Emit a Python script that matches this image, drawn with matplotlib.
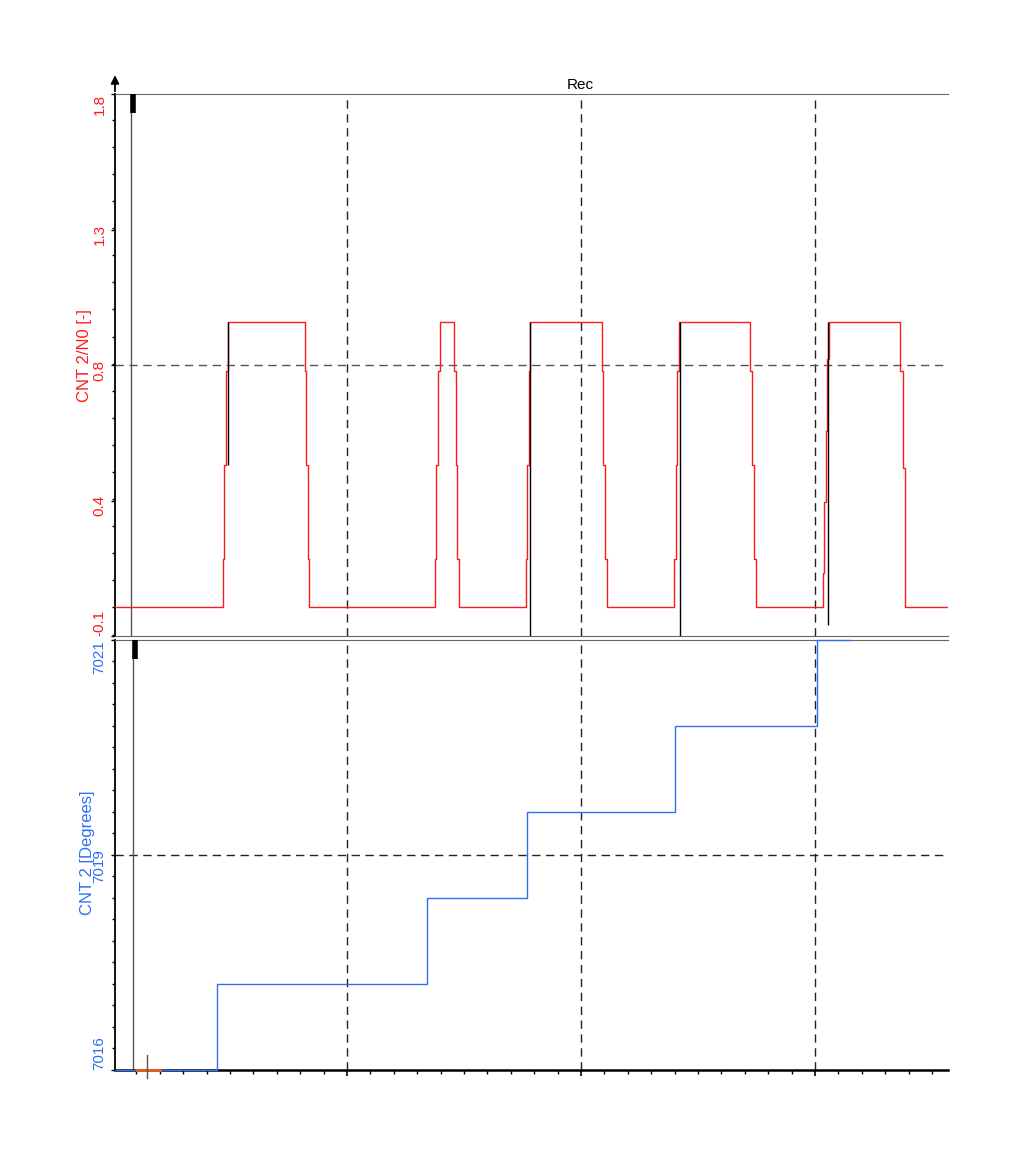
import matplotlib
matplotlib.use("Agg")
import matplotlib.pyplot as plt
from matplotlib.ticker import MultipleLocator, FixedLocator

plt.rcParams['font.family'] = ['Liberation Sans', 'DejaVu Sans']

### data ###
# CNT 2/N0 (red, steps-post)
red_t = [0.0085, 0.469, 0.476, 0.482, 0.490, 0.821, 0.825, 0.835, 0.839,
         1.376, 1.382, 1.388, 1.396, 1.457, 1.465, 1.471, 1.479,
         1.764, 1.769, 1.776, 1.782, 2.090, 2.095, 2.104, 2.112,
         2.399, 2.406, 2.412, 2.420, 2.722, 2.731, 2.739, 2.748,
         3.033, 3.040, 3.046, 3.053, 3.060, 3.363, 3.377, 3.383, 3.385, 3.568]
red_v = [0.0, 0.17, 0.5, 0.83, 1.0, 0.83, 0.5, 0.17, 0.0,
         0.17, 0.5, 0.83, 1.0, 0.83, 0.5, 0.17, 0.0,
         0.17, 0.5, 0.83, 1.0, 0.83, 0.5, 0.17, 0.0,
         0.17, 0.5, 0.83, 1.0, 0.83, 0.5, 0.17, 0.0,
         0.12, 0.37, 0.62, 0.87, 1.0, 0.83, 0.49, 0.16, 0.0, 0.0]

# black trace, visible only on some rising edges
blk_t = [0.490, 1.782, 2.423, 3.056]
blk_lo = [0.5, -0.2, -0.2, -0.06]
blk_hi = [1.0, 1.0, 1.0, 1.0]

# CNT 2 (blue, steps-post)
blue_t = [0.0085, 0.444, 1.342, 1.769, 2.402, 3.009, 3.150]
blue_v = [7016, 7017, 7018, 7019, 7020, 7021, 7021]

top_ticks = [-0.1, 0.375, 0.85, 1.325, 1.8]
top_labels = ["-0.1", "0.4", "0.8", "1.3", "1.8"]
bot_ticks = [7016, 7018.5, 7021]
bot_labels = ["7016", "7019", "7021"]

red = '#ff1a1a'
blue = '#2f6ff5'
grid_kw = dict(color='#222222', lw=1.0, linestyle=(0, (6, 4)))

fig = plt.figure(figsize=(10.24, 11.7), dpi=100)
ax1 = fig.add_axes([0.1123, 0.4564, 0.8135, 0.4632])
ax2 = fig.add_axes([0.1123, 0.0855, 0.8135, 0.3675])

xmin, xmax = 0.0085, 3.568

### top panel ###
ax1.step(red_t, red_v, where='post', color=red, lw=1.0, zorder=3)
ax1.vlines(blk_t, blk_lo, blk_hi, color='black', lw=1.0, zorder=4)
ax1.set_xlim(xmin, xmax)
ax1.set_ylim(-0.1, 1.8)
for x in [1, 2, 3]:
    ax1.axvline(x, **grid_kw, zorder=1)
ax1.axhline(0.85, color='#555555', lw=1.0, linestyle=(0, (6, 4)), zorder=1)
ax1.axvline(0.077, color='#555555', lw=1.0, zorder=2)
ax1.plot([0.085, 0.085], [1.8, 1.733], color='black', lw=4, solid_capstyle='butt', zorder=5)

ax1.yaxis.set_major_locator(FixedLocator(top_ticks))
ax1.yaxis.set_minor_locator(MultipleLocator(0.095))
ax1.set_yticklabels(top_labels, rotation=90, color=red, fontsize=11)
ax1.tick_params(axis='y', which='major', length=3, width=1, pad=3)
ax1.tick_params(axis='y', which='minor', length=2, width=1)
ax1.tick_params(axis='x', which='both', bottom=False, labelbottom=False)
lbls = ax1.get_yticklabels()
lbls[0].set_va('bottom')
lbls[-1].set_va('top')

ax1.spines['right'].set_visible(False)
ax1.spines['top'].set_color('#666666')
ax1.spines['bottom'].set_color('#666666')
ax1.spines['left'].set_color('black')
ax1.spines['left'].set_linewidth(1.3)
ax1.text(0.558, 1.003, 'Rec', transform=ax1.transAxes, ha='center', va='bottom', fontsize=11)
ax1.text(-0.037, 0.517, 'CNT 2/N0 [-]', transform=ax1.transAxes, rotation=90,
         ha='center', va='center', color=red, fontsize=12)
ax1.annotate('', xy=(0.0, 1.04), xytext=(0.0, 1.0), xycoords='axes fraction',
             arrowprops=dict(arrowstyle='-|>', color='black', lw=1.3, mutation_scale=12))

### bottom panel ###
ax2.step(blue_t, blue_v, where='post', color=blue, lw=1.0, zorder=3, clip_on=False)
ax2.set_xlim(xmin, xmax)
ax2.set_ylim(7016, 7021)
for x in [1, 2, 3]:
    ax2.axvline(x, **grid_kw, zorder=1)
ax2.axhline(7018.5, **grid_kw, zorder=1)
ax2.axvline(0.085, color='#555555', lw=1.0, zorder=2)
ax2.plot([0.093, 0.093], [7021, 7020.78], color='black', lw=4, solid_capstyle='butt', zorder=5)
ax2.plot([0.103, 0.201], [7016, 7016], color='#e8601c', lw=2, zorder=6, clip_on=False)
ax2.plot([0.145, 0.145], [7016.17, 7015.91], color='#555555', lw=1, zorder=6, clip_on=False)

ax2.yaxis.set_major_locator(FixedLocator(bot_ticks))
ax2.yaxis.set_minor_locator(MultipleLocator(0.25))
ax2.set_yticklabels(bot_labels, rotation=90, color=blue, fontsize=11)
ax2.tick_params(axis='y', which='major', length=3, width=1, pad=3)
ax2.tick_params(axis='y', which='minor', length=2, width=1)
lbls = ax2.get_yticklabels()
lbls[0].set_va('bottom')
lbls[-1].set_va('top')

ax2.xaxis.set_major_locator(MultipleLocator(1))
ax2.xaxis.set_minor_locator(MultipleLocator(0.1))
ax2.tick_params(axis='x', which='major', length=4, width=1.2, labelbottom=False)
ax2.tick_params(axis='x', which='minor', length=3, width=1)

ax2.spines['right'].set_visible(False)
ax2.spines['top'].set_color('#666666')
ax2.spines['bottom'].set_color('black')
ax2.spines['bottom'].set_linewidth(1.8)
ax2.spines['left'].set_color('black')
ax2.spines['left'].set_linewidth(1.3)
ax2.text(-0.0336, 0.505, 'CNT 2 [Degrees]', transform=ax2.transAxes, rotation=90,
         ha='center', va='center', color=blue, fontsize=12)

fig.savefig('out.png', dpi=100)
